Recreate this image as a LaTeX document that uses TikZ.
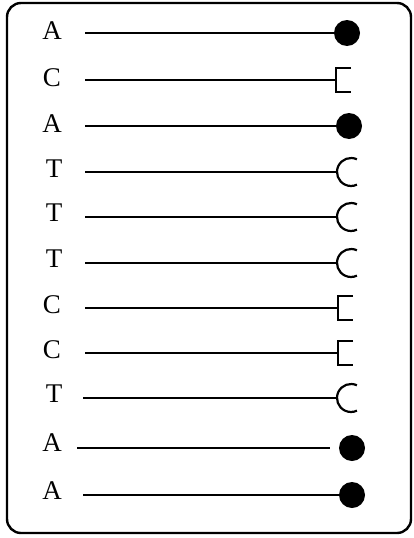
\documentclass[tikz,border=0pt]{standalone}
\usepackage{fontspec}
\setmainfont{Liberation Serif}
\tikzset{
  base/.style={font=\fontsize{27}{27}\selectfont, inner sep=0pt},
  wire/.style={line width=2pt},
  blob/.style={circle, fill, inner sep=0pt, minimum size=26pt},
  pics/brk/.style={code={\draw[line width=2.2pt] (15,-12)--(0,-12)--(0,12)--(15,12);}},
  pics/cup/.style={code={\draw[line width=2.2pt] (19.9,-12.7) arc (-65:-295:14);}}
}
\begin{document}
\begin{tikzpicture}[x=1pt,y=-1pt]
    \useasboundingbox (0,0) rectangle (413,538);
    \draw[line width=2.4pt, rounded corners=14pt] (7,3) rectangle (411,533);
    % letters
    \node[base] (t1)  at (52,31)  {A};
    \node[base] (t2)  at (52,78)  {C};
    \node[base] (t3)  at (52,124) {A};
    \node[base] (t4)  at (54,169) {T};
    \node[base] (t5)  at (54,213) {T};
    \node[base] (t6)  at (54,259) {T};
    \node[base] (t7)  at (52,305) {C};
    \node[base] (t8)  at (52,350) {C};
    \node[base] (t9)  at (54,394) {T};
    \node[base] (t10) at (52,443) {A};
    \node[base] (t11) at (52,491) {A};
    % line starts
    \coordinate (s1)  at (85,33);  \coordinate (s2)  at (85,80);
    \coordinate (s3)  at (85,126); \coordinate (s4)  at (85,172);
    \coordinate (s5)  at (85,217); \coordinate (s6)  at (85,263);
    \coordinate (s7)  at (85,308); \coordinate (s8)  at (85,353);
    \coordinate (s9)  at (83,398); \coordinate (s10) at (77,448);
    \coordinate (s11) at (83,495);
    % ends
    \node[blob] (e1) at (347,33) {};
    \coordinate (e2) at (336,80);
    \node[blob] (e3) at (349,126) {};
    \coordinate (e4) at (337,172);
    \coordinate (e5) at (337,217);
    \coordinate (e6) at (337,263);
    \coordinate (e7) at (338,308);
    \coordinate (e8) at (338,353);
    \coordinate (e9) at (337,398);
    \node[blob] (e10) at (352,448) {};
    \node[blob] (e11) at (352,495) {};
    \coordinate (g10) at (330,448);
    \pic at (e2) {brk}; \pic at (e7) {brk}; \pic at (e8) {brk};
    \pic at (e4) {cup}; \pic at (e5) {cup}; \pic at (e6) {cup}; \pic at (e9) {cup};
    \draw[wire] (s1)--(e1); \draw[wire] (s2)--(e2); \draw[wire] (s3)--(e3);
    \draw[wire] (s4)--(e4); \draw[wire] (s5)--(e5); \draw[wire] (s6)--(e6);
    \draw[wire] (s7)--(e7); \draw[wire] (s8)--(e8); \draw[wire] (s9)--(e9);
    \draw[wire] (s10)--(g10); \draw[wire] (s11)--(e11);
  \end{tikzpicture}
\end{document}
